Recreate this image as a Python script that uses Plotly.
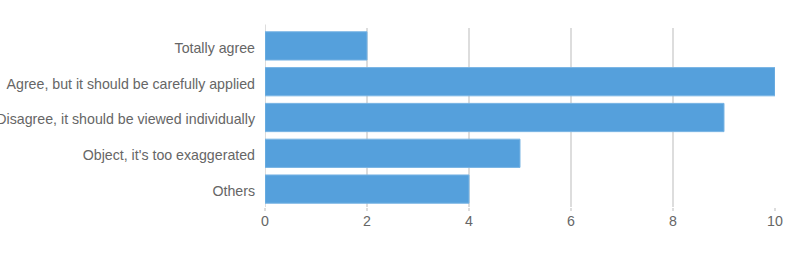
import plotly.graph_objects as go

categories = ["Totally agree", "Agree, but it should be carefully applied",
              "Disagree, it should be viewed individually",
              "Object, it's too exaggerated", "Others"]
values = [2, 10, 9, 5, 4]
tick_vals = [0, 2, 4, 6, 8, 10]

fig = go.Figure(go.Bar(
    x=values, y=categories, orientation="h",
    marker=dict(color="#55a0dc", line=dict(color="#7ab5e4", width=1)),
))
fig.update_layout(
    width=800, height=260,
    margin=dict(l=265, r=25, t=28, b=53),
    plot_bgcolor="white", paper_bgcolor="white",
    font=dict(family="Liberation Sans, Arial, sans-serif", size=14.2, color="#666666"),
    bargap=0.21,
    showlegend=False,
)
fig.update_xaxes(range=[0, 10], tickvals=tick_vals, showgrid=True,
                 gridcolor="#dddddd", gridwidth=2, zeroline=False,
                 ticks="outside", ticklen=3, tickcolor="#dddddd", tickwidth=2,
                 ticklabelstandoff=-2,
                 showline=False, automargin=False)
fig.update_yaxes(categoryorder="array", categoryarray=categories[::-1],
                 showgrid=False, zeroline=False, showline=False,
                 ticks="", ticklabelstandoff=9, ticklabelshift=2, automargin=False)
fig.add_shape(type="line", xref="x", yref="paper", x0=0, x1=0, y0=0, y1=1.02,
              line=dict(color="#dddddd", width=2), layer="below")
fig.write_html("out.html")
